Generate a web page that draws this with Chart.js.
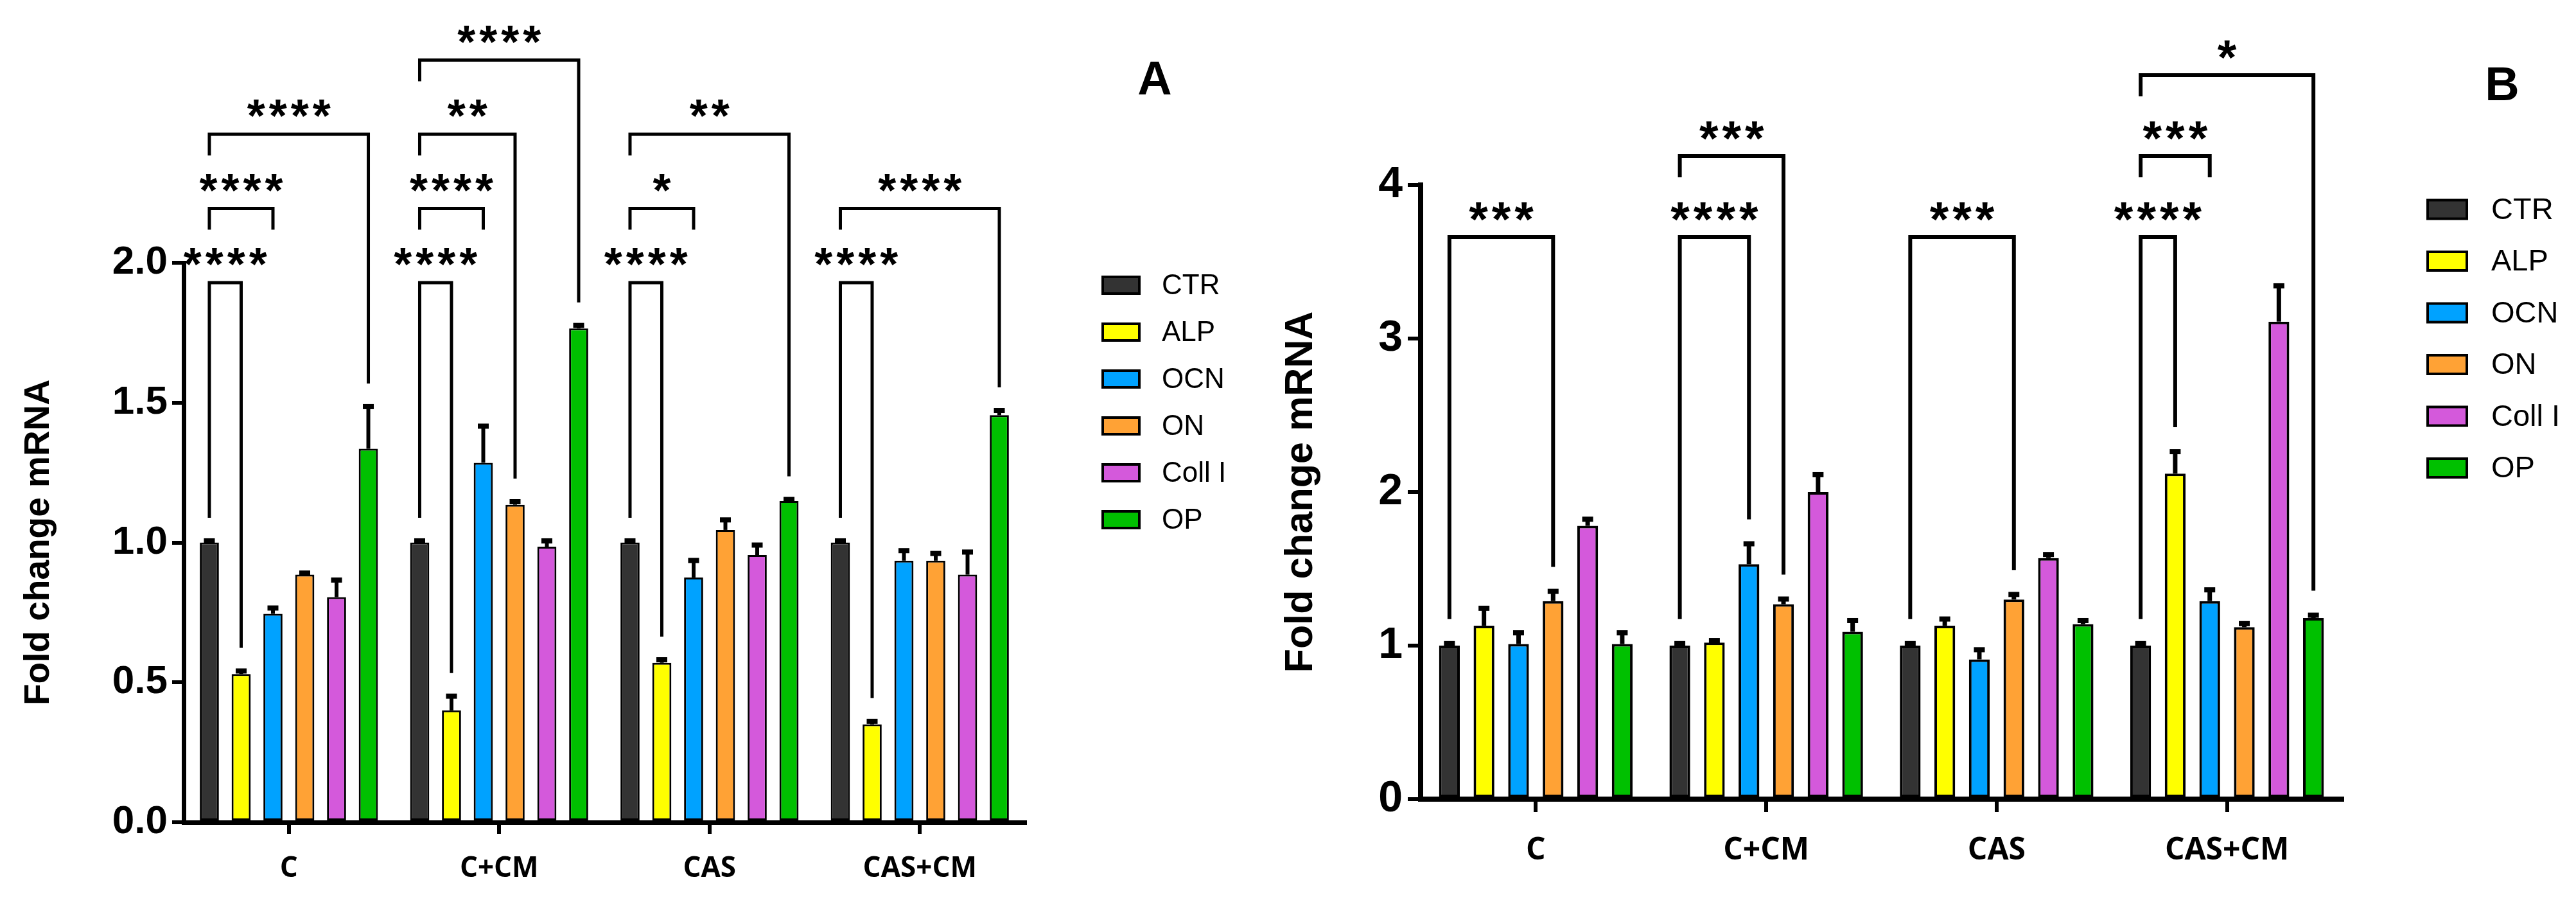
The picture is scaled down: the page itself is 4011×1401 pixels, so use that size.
<!DOCTYPE html>
<html>
<head>
<meta charset="utf-8">
<title>Fold change mRNA</title>
<script src="https://cdn.jsdelivr.net/npm/chart.js@4.4.1/dist/chart.umd.min.js"></script>
<style>
  html, body { margin: 0; padding: 0; background: #fff; }
  body { width: 4011px; height: 1401px; position: relative; overflow: hidden; }
  canvas { position: absolute; top: 0; }
  #chartA { left: 0; }
  #chartB { left: 1950px; }
</style>
</head>
<body>
<canvas id="chartA" width="1950" height="1401"></canvas>
<canvas id="chartB" width="2061" height="1401"></canvas>
<script>
const categories = ['C', 'C+CM', 'CAS', 'CAS+CM'];
const genes = ['CTR', 'ALP', 'OCN', 'ON', 'Coll I', 'OP'];
const geneColors = ['#333333', '#ffff00', '#00a2ff', '#ffa235', '#d459db', '#00c000'];

// Panel A - means (one value per category)
const ctrA  = [1.00, 1.00, 1.00, 1.00];
const alpA  = [0.53, 0.40, 0.57, 0.35];
const ocnA  = [0.745, 1.285, 0.875, 0.935];
const onA   = [0.885, 1.135, 1.045, 0.935];
const collA = [0.805, 0.985, 0.955, 0.885];
const opA   = [1.335, 1.765, 1.148, 1.455];
// Panel A - SEM
const ctrErrA  = [0.015, 0.015, 0.015, 0.015];
const alpErrA  = [0.02, 0.06, 0.02, 0.02];
const ocnErrA  = [0.03, 0.14, 0.07, 0.045];
const onErrA   = [0.015, 0.02, 0.045, 0.035];
const collErrA = [0.07, 0.03, 0.045, 0.09];
const opErrA   = [0.16, 0.02, 0.015, 0.026];
const yTicksA = ['0.0', '0.5', '1.0', '1.5', '2.0'];

// Panel B - means
const ctrB  = [1.00, 1.00, 1.00, 1.00];
const alpB  = [1.13, 1.02, 1.13, 2.12];
const ocnB  = [1.01, 1.53, 0.91, 1.29];
const onB   = [1.29, 1.27, 1.30, 1.12];
const collB = [1.78, 2.00, 1.57, 3.11];
const opB   = [1.01, 1.09, 1.14, 1.18];
// Panel B - SEM
const ctrErrB  = [0.03, 0.03, 0.03, 0.03];
const alpErrB  = [0.13, 0.03, 0.06, 0.16];
const ocnErrB  = [0.09, 0.15, 0.08, 0.09];
const onErrB   = [0.08, 0.05, 0.05, 0.04];
const collErrB = [0.06, 0.13, 0.04, 0.25];
const opErrB   = [0.09, 0.09, 0.04, 0.035];
const yTicksB = ['0', '1', '2', '3', '4'];

// significance: [category, from gene, to gene, level, stars, short right leg]
const signifA = [
  [0, 0, 1, 1, '****', false], [0, 0, 2, 2, '****', true], [0, 0, 5, 3, '****', false],
  [1, 0, 1, 1, '****', false], [1, 0, 2, 2, '****', true], [1, 0, 3, 3, '**', false], [1, 0, 5, 4, '****', false],
  [2, 0, 1, 1, '****', false], [2, 0, 2, 2, '*', true], [2, 0, 5, 3, '**', false],
  [3, 0, 1, 1, '****', false], [3, 0, 5, 2, '****', false]
];
const signifB = [
  [0, 0, 3, 1, '***', false],
  [1, 0, 2, 1, '****', false], [1, 0, 3, 2, '***', false],
  [2, 0, 3, 1, '***', false],
  [3, 0, 1, 1, '****', false], [3, 0, 2, 2, '***', true], [3, 0, 5, 3, '*', false]
];

const sans = "'Liberation Sans', Arial, sans-serif";

// error bars, brackets, legend and panel letter
function makeDecorations(brackets, o) {
  return {
    id: 'decorations',
    afterDatasetsDraw(chart) {
      const ctx = chart.ctx;
      const ys = chart.scales.y;
      const top = chart.chartArea.top;
      const dsets = chart.data.datasets;
      ctx.save();

      // error bars (upper only)
      dsets.forEach((ds, d) => {
        chart.getDatasetMeta(d).data.forEach((bar, i) => {
          const yEnd = ys.getPixelForValue(ds.data[i] + ds.errors[i]);
          ctx.strokeStyle = '#000';
          ctx.lineWidth = o.errWidth;
          ctx.beginPath();
          ctx.moveTo(bar.x, bar.y);
          ctx.lineTo(bar.x, yEnd + 2);
          ctx.stroke();
          ctx.fillStyle = '#000';
          ctx.fillRect(bar.x - o.capWidth / 2, yEnd, o.capWidth, o.capHeight);
        });
      });

      // brackets
      ctx.lineWidth = o.bracketWidth;
      ctx.lineJoin = 'miter';
      ctx.lineCap = 'butt';
      ctx.strokeStyle = '#000';
      ctx.font = 'bold ' + o.starSize + 'px ' + sans;
      ctx.textAlign = 'center';
      ctx.textBaseline = 'alphabetic';
      if ('letterSpacing' in ctx) ctx.letterSpacing = o.starSpacing + 'px';
      brackets.forEach(([g, a, b, level, stars, shortRight]) => {
        const xa = chart.getDatasetMeta(a).data[g].x;
        const xb = chart.getDatasetMeta(b).data[g].x;
        const yl = top + o.base - (level - 1) * o.step;
        const left = level === 1
          ? ys.getPixelForValue(dsets[a].data[g] + dsets[a].errors[g]) - o.gap
          : yl + o.shortLeg;
        const right = shortRight
          ? yl + o.shortLeg
          : ys.getPixelForValue(dsets[b].data[g] + dsets[b].errors[g]) - o.gap;
        ctx.beginPath();
        ctx.moveTo(xa, left);
        ctx.lineTo(xa, yl);
        ctx.lineTo(xb, yl);
        ctx.lineTo(xb, right);
        ctx.stroke();
        ctx.fillStyle = '#000';
        ctx.fillText(stars, (xa + xb) / 2 + o.starSpacing / 2, yl - o.starLift);
      });
      if ('letterSpacing' in ctx) ctx.letterSpacing = '0px';

      // legend
      const L = o.legend;
      ctx.font = L.size + 'px ' + sans;
      ctx.textAlign = 'left';
      ctx.textBaseline = 'middle';
      ctx.lineWidth = L.border;
      dsets.forEach((ds, i) => {
        const yy = L.y + i * L.step;
        ctx.fillStyle = ds.backgroundColor;
        ctx.fillRect(L.x, yy - L.h / 2, L.w, L.h);
        ctx.strokeStyle = '#000';
        ctx.strokeRect(L.x, yy - L.h / 2, L.w, L.h);
        ctx.fillStyle = '#000';
        ctx.fillText(ds.label, L.textX, yy + 2);
      });

      // panel letter
      ctx.font = 'bold ' + o.letterSize + 'px ' + sans;
      ctx.textAlign = 'center';
      ctx.textBaseline = 'alphabetic';
      ctx.fillText(o.letter, o.letterX, o.letterY);
      ctx.restore();
    }
  };
}

function makeChart(id, means, errs, yTicks, brackets, cfg) {
  return new Chart(document.getElementById(id), {
    type: 'bar',
    data: {
      labels: categories,
      datasets: genes.map((g, i) => ({
        label: g,
        data: means[i],
        errors: errs[i],
        backgroundColor: geneColors[i],
        borderColor: '#000',
        borderWidth: cfg.barBorder,
        borderSkipped: false,
        categoryPercentage: cfg.catPct,
        barPercentage: 0.6
      }))
    },
    options: {
      responsive: false,
      animation: false,
      devicePixelRatio: 1,
      layout: { padding: { left: 0, top: cfg.top, right: cfg.right, bottom: 0 } },
      plugins: {
        legend: { display: false },
        tooltip: { enabled: false }
      },
      scales: {
        x: {
          grid: { display: true, drawOnChartArea: false, offset: false, tickLength: cfg.tickLen, lineWidth: 6, color: '#000' },
          border: { display: true, width: cfg.axisWidth, color: '#000' },
          ticks: { color: '#000', padding: cfg.xPad, maxRotation: 0, font: { family: "'Open Sans', " + sans, size: cfg.catSize, weight: 'bold' } },
          afterFit: s => { s.height = cfg.xHeight; }
        },
        y: {
          min: 0,
          max: cfg.max,
          ticks: {
            stepSize: cfg.step,
            color: '#000',
            padding: cfg.yPad,
            font: { family: sans, size: cfg.yTickSize, weight: 'bold' },
            callback: (v, i) => yTicks[i]
          },
          grid: { display: true, drawOnChartArea: false, tickLength: cfg.tickLen, lineWidth: 6, color: '#000' },
          border: { display: true, width: cfg.axisWidth, color: '#000' },
          title: {
            display: true,
            text: 'Fold change mRNA',
            color: '#000',
            font: { family: sans, size: cfg.titleSize, weight: 'bold' },
            padding: { top: cfg.titlePad, bottom: 0 }
          },
          afterFit: s => { s.width = cfg.yWidth; }
        }
      }
    },
    plugins: [makeDecorations(brackets, cfg.deco)]
  });
}

makeChart('chartA',
  [ctrA, alpA, ocnA, onA, collA, opA],
  [ctrErrA, alpErrA, ocnErrA, onErrA, collErrA, opErrA],
  yTicksA, signifA,
  {
    top: 409, right: 354, yWidth: 286, xHeight: 121, max: 2, step: 0.5,
    barBorder: 3, catPct: 0.907, tickLen: 18, axisWidth: 7, xPad: 28, yPad: 7,
    catSize: 44, yTickSize: 62, titleSize: 55, titlePad: 28,
    deco: {
      errWidth: 6, capWidth: 17, capHeight: 8,
      bracketWidth: 5, base: 31, step: 115.5, gap: 32, shortLeg: 33,
      starSize: 72, starSpacing: 6, starLift: 4,
      legend: { x: 1717, y: 444, step: 73, w: 57, h: 26, border: 4, textX: 1809, size: 44 },
      letter: 'A', letterSize: 74, letterX: 1798, letterY: 147
    }
  });

makeChart('chartB',
  [ctrB, alpB, ocnB, onB, collB, opB],
  [ctrErrB, alpErrB, ocnErrB, onErrB, collErrB, opErrB],
  yTicksB, signifB,
  {
    top: 288, right: 364, yWidth: 262, xHeight: 157, max: 4, step: 1,
    barBorder: 4, catPct: 0.9, tickLen: 20, axisWidth: 8, xPad: 32, yPad: 8,
    catSize: 48, yTickSize: 68, titleSize: 61, titlePad: 40,
    deco: {
      errWidth: 7, capWidth: 17, capHeight: 8,
      bracketWidth: 6, base: 81, step: 126, gap: 34, shortLeg: 33,
      starSize: 76, starSpacing: 6, starLift: 2,
      legend: { x: 1830, y: 326, step: 80.5, w: 61, h: 29, border: 4, textX: 1929, size: 47 },
      letter: 'B', letterSize: 74, letterX: 1946, letterY: 156
    }
  });
</script>
</body>
</html>
